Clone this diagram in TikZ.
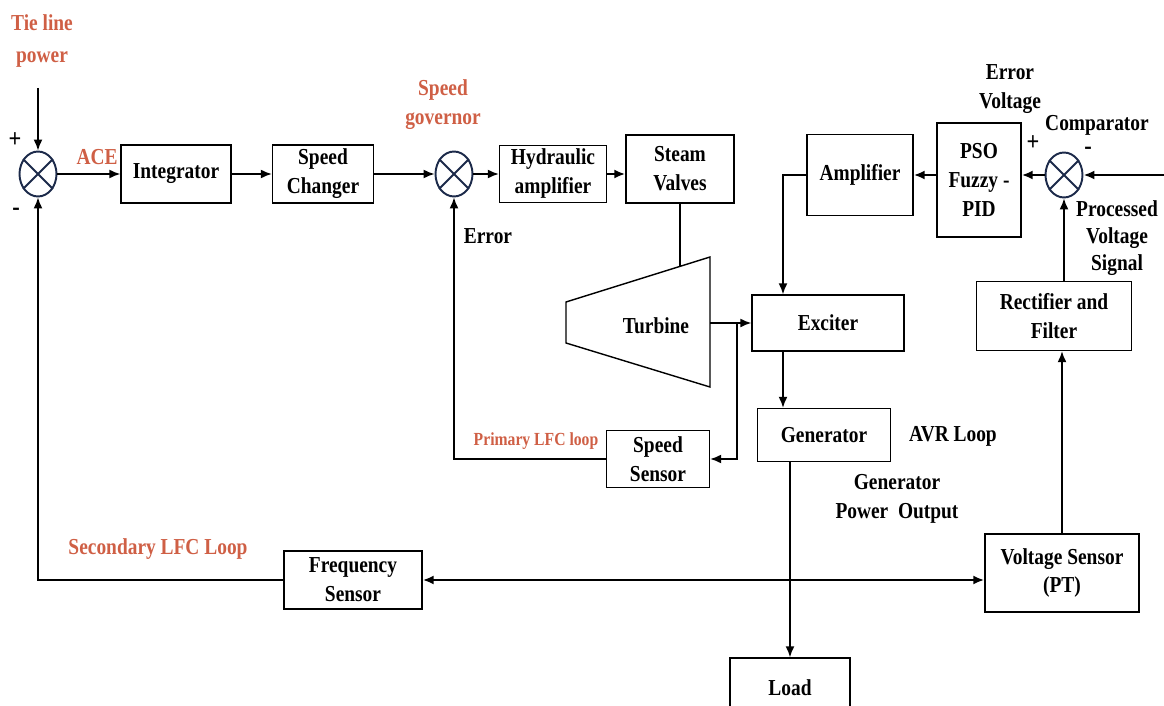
\documentclass[tikz,border=0pt]{standalone}
\usepackage{fontspec}
\setmainfont{Liberation Serif}[FakeStretch=0.85]
\usetikzlibrary{arrows.meta,shapes.geometric}
\definecolor{looporange}{HTML}{CF5F45}
\definecolor{sumnavy}{HTML}{1C2A4A}
\tikzset{
  block/.style={draw, line width=0.8pt, font=\fontsize{13}{16.5}\selectfont\bfseries,
                align=center, inner sep=0pt},
  sumnode/.style={draw=sumnavy, ellipse, line width=1.1pt, minimum width=0.74cm,
                  minimum height=0.9cm, inner sep=0pt},
  lbl/.style={font=\fontsize{13}{16.5}\selectfont\bfseries, align=center, inner sep=0pt},
  looplbl/.style={lbl, text=looporange},
  sign/.style={font=\fontsize{15}{16}\selectfont\bfseries, inner sep=0pt},
  arr/.style={-{Latex[length=2.2mm,width=1.8mm]}, line width=0.9pt},
  thickarr/.style={arr, line width=1.5pt},
  wire/.style={line width=0.9pt},
}
\begin{document}
\begin{tikzpicture}[x=0.02cm,y=-0.02cm]
  \useasboundingbox (0,0) rectangle (1164,706);
  % summing points
  \node[sumnode] (sum1) at (38,174) {};
  \node[sumnode] (sum2) at (454,174) {};
  \node[sumnode] (comp) at (1064,175) {};
  \foreach \s in {sum1,sum2,comp}
    \draw[sumnavy, line width=1.1pt] (\s.45) -- (\s.225) (\s.135) -- (\s.315);
  % blocks
  \node[block, minimum width=2.2cm, minimum height=1.16cm] (integ) at (176,174) {Integrator};
  \node[block, minimum width=2.02cm, minimum height=1.16cm] (spdchg) at (323,174) {Speed\\Changer};
  \node[block, minimum width=2.14cm, minimum height=1.14cm] (hyd) at (553,174) {Hydraulic\\amplifier};
  \node[block, minimum width=2.16cm, minimum height=1.36cm] (valves) at (680,169) {Steam\\Valves};
  \node[block, minimum width=2.12cm, minimum height=1.62cm] (amp) at (860,175) {Amplifier};
  \node[block, minimum width=1.68cm, minimum height=2.28cm] (pid) at (979,180) {PSO\\Fuzzy -\\PID};
  \node[block, minimum width=3.04cm, minimum height=1.12cm] (exc) at (828,323) {Exciter};
  \node[block, minimum width=3.1cm, minimum height=1.38cm] (rect) at (1054,316) {Rectifier and\\Filter};
  \node[block, minimum width=2.66cm, minimum height=1.06cm] (gen) at (824,435) {Generator};
  \node[block, minimum width=2.06cm, minimum height=1.14cm] (spdsens) at (658,459) {Speed\\Sensor};
  \node[block, minimum width=2.76cm, minimum height=1.16cm] (freq) at (353,580) {Frequency\\Sensor};
  \node[block, minimum width=3.08cm, minimum height=1.56cm] (vsens) at (1062,573) {Voltage Sensor\\(PT)};
  \node[block, minimum width=2.4cm, minimum height=1.2cm] (ld) at (790,688) {Load};
  % turbine
  \draw[line width=0.8pt] (566,302) -- (710,257) -- (710,387) -- (566,343) -- cycle;
  \node[lbl] (turb) at (656,326) {Turbine};
  \coordinate (turbout) at (710,323);
  \coordinate (turbtop) at (680,266);
  \coordinate (tap) at (737,323);
  \coordinate (drop) at (783,0);
  \coordinate (tieline) at (38,88);
  \coordinate (vin) at (1164,175);
  % labels
  \node[looplbl] (tielbl) at (42,41) {Tie line\\[2pt]power};
  \node[looplbl] (acelbl) at (97,157) {ACE};
  \node[looplbl] (govlbl) at (443,105) {Speed\\governor};
  \node[looplbl, font=\fontsize{10.5}{12}\selectfont\bfseries] (prilbl) at (536,441) {Primary LFC loop};
  \node[looplbl] (seclbl) at (158,549) {Secondary LFC Loop};
  \node[lbl] (errlbl) at (488,236) {Error};
  \node[lbl] (avrlbl) at (953,436) {AVR Loop};
  \node[lbl] (outlbl) at (897,499) {Generator\\Power\ \ Output};
  \node[lbl] (evlbl) at (1010,89) {Error\\Voltage};
  \node[lbl] (cmplbl) at (1097,125) {Comparator};
  \node[lbl, font=\fontsize{13}{15.3}\selectfont\bfseries] (pvlbl) at (1117,238) {Processed\\Voltage\\Signal};
  \node[sign] (p1) at (15,140) {+};
  \node[sign] (m1) at (16,212) {-};
  \node[sign] (p2) at (1033,143) {+};
  \node[sign] (m2) at (1088,151) {-};
  % LFC path
  \draw[arr] (tieline) -- (sum1.north);
  \draw[arr] (sum1.east) -- (integ.west);
  \draw[arr] (integ.east) -- (spdchg.west);
  \draw[arr] (spdchg.east) -- (sum2.west);
  \draw[arr] (sum2.east) -- (hyd.west);
  \draw[thickarr] (hyd.east) -- (valves.west |- hyd.east);
  \draw[wire] (valves.south) -- (turbtop);
  \draw[arr] (turbout) -- (exc.west);
  \draw[arr] (tap) |- (spdsens.east);
  \draw[arr] (spdsens.west) -| (sum2.south);
  \draw[arr] (freq.west) -| (sum1.south);
  % AVR path
  \draw[thickarr] (vin) -- (comp.east);
  \draw[thickarr] (comp.west) -- (pid.east |- comp.west);
  \draw[thickarr] (pid.west |- amp.east) -- (amp.east);
  \draw[arr] (amp.west) -| (exc.north -| drop);
  \draw[arr] (exc.south -| drop) -- (gen.north -| drop);
  \draw[arr] (gen.south -| ld.north) -- (ld.north);
  \draw[arr] (vsens.north) -- (vsens.north |- rect.south);
  \draw[arr] (rect.north -| comp) -- (comp.south);
  \draw[{Latex[length=2.2mm,width=1.8mm]}-{Latex[length=2.2mm,width=1.8mm]}, line width=1.4pt]
    (freq.east) -- (freq.east -| vsens.west);
\end{tikzpicture}
\end{document}
